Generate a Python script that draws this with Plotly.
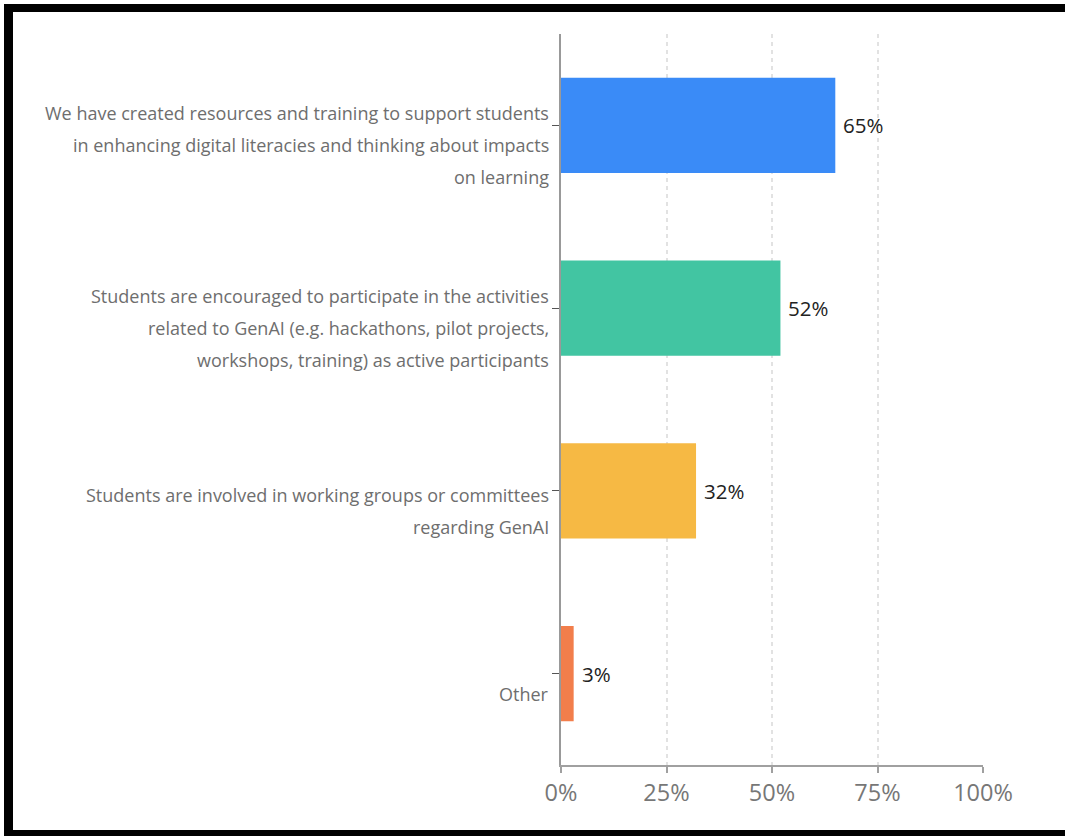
import plotly.graph_objects as go

categories = [
    "We have created resources and training to support students<br>in enhancing digital literacies and thinking about impacts<br>on learning",
    "Students are encouraged to participate in the activities<br>related to GenAI (e.g. hackathons, pilot projects,<br>workshops, training) as active participants",
    "Students are involved in working groups or committees<br>regarding GenAI",
    "Other",
]
values = [65, 52, 32, 3]
colors = ["#3a8bf7", "#42c5a2", "#f6b944", "#f27e4b"]
x_ticks = [0, 25, 50, 75, 100]
x_tick_labels = ["0%", "25%", "50%", "75%", "100%"]

W, H = 1065, 836
ML, MR, MT, MB = 561, 82, 34, 71
PW, PH = W - ML - MR, H - MT - MB

def px(x):
    return (x - ML) / PW

def py(y):
    return (H - MB - y) / PH

fig = go.Figure(go.Bar(
    x=values, y=categories, orientation="h",
    marker=dict(color=colors, line=dict(width=0)),
    hoverinfo="skip",
))

annotations = []
for cat, v in zip(categories, values):
    annotations.append(dict(
        x=v, y=cat, xref="x", yref="y", text=f"{v}%", showarrow=False,
        xanchor="left", yanchor="middle", xshift=6,
        font=dict(family="Open Sans", size=20.5, color="#222"),
    ))
    lines = cat.split("<br>")
    n = len(lines)
    for i, line in enumerate(lines):
        annotations.append(dict(
            x=0, y=cat, xref="paper", yref="y", text=line, showarrow=False,
            xanchor="right", yanchor="middle", xshift=-10,
            yshift=-(20 + (i - (n - 1) / 2) * 32),
            font=dict(family="Open Sans", size=18, color="#6e6e6e"),
        ))

shapes = [
    dict(type="rect", xref="paper", yref="paper", x0=px(4), x1=px(1065), y0=py(12), y1=py(4),
         fillcolor="black", line=dict(width=0), layer="above"),
    dict(type="rect", xref="paper", yref="paper", x0=px(4), x1=px(13), y0=py(836), y1=py(4),
         fillcolor="black", line=dict(width=0), layer="above"),
    dict(type="rect", xref="paper", yref="paper", x0=px(4), x1=px(1065), y0=py(836), y1=py(830),
         fillcolor="black", line=dict(width=0), layer="above"),
]

fig.update_layout(
    width=W, height=H,
    margin=dict(l=ML, r=MR, t=MT, b=MB, pad=0),
    paper_bgcolor="white", plot_bgcolor="white",
    showlegend=False, bargap=0.48,
    annotations=annotations, shapes=shapes,
    font=dict(family="Open Sans"),
)
fig.update_xaxes(
    range=[0, 100], tickvals=x_ticks, ticktext=x_tick_labels,
    showgrid=True, gridcolor="#e2e2e2", griddash="4px,4px", gridwidth=1.5,
    showline=True, linecolor="#a0a0a0", linewidth=2,
    ticks="outside", ticklen=6, tickcolor="#a0a0a0", tickwidth=1.5,
    tickfont=dict(family="Open Sans", size=23.5, color="#777"),
    zeroline=False, fixedrange=True,
)
fig.update_yaxes(
    categoryorder="array", categoryarray=categories, autorange="reversed",
    showticklabels=False, showgrid=False, zeroline=False,
    showline=True, linecolor="#999", linewidth=2,
    ticks="outside", ticklen=7, tickcolor="#555", tickwidth=1,
    fixedrange=True,
)

fig.write_html("out.html", config={"displayModeBar": False})
